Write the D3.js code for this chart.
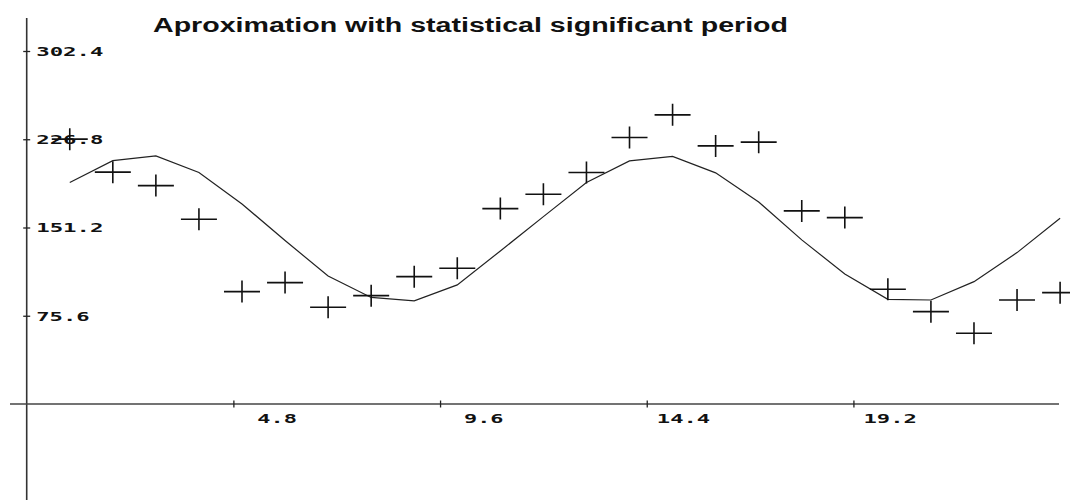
<!DOCTYPE html>
<html>
<head>
<meta charset="utf-8">
<title>Aproximation with statistical significant period</title>
<script src="https://cdn.jsdelivr.net/npm/d3@7"></script>
<style>
    html, body { margin: 0; padding: 0; background: #fff; }
    svg { display: block; }
    .lbl { font-family: "DejaVu Sans Mono", monospace; font-weight: bold; font-size: 12px; fill: #111; }
</style>
</head>
<body>
<svg id="svg-main" width="1070" height="500"></svg>
<script>
// time steps (x) of the observations
var steps = [1, 2, 3, 4, 5, 6, 7, 8, 9, 10, 11, 12, 13, 14, 15, 16, 17, 18, 19, 20, 21, 22, 23, 24];
// observed values (crosses)
var observed = [226.9, 198.6, 187.1, 158.3, 96.3, 104.0, 82.9, 92.8, 109.1, 116.3, 167.4, 179.7,
                198.3, 228.3, 247.7, 221.1, 224.3, 165.4, 159.7, 98.3, 79.1, 60.6, 89.1, 95.4];
// approximation with the significant period (line)
var fitted = [189.7, 208.5, 212.6, 198.3, 171.4, 140.0, 109.7, 91.3, 88.3, 102.0, 131.1, 160.5,
              189.7, 208.3, 212.1, 198.0, 173.1, 140.6, 111.4, 89.7, 89.1, 104.8, 129.7, 159.2];
var xTicks = [4.8, 9.6, 14.4, 19.2];
var yTicks = [75.6, 151.2, 226.8, 302.4];
var title = "Aproximation with statistical significant period";

window.onload = function () {
    var svg = d3.select("svg");

    var x = d3.scaleLinear().domain([0, 24]).range([26.7, 1060.1]);
    var y = d3.scaleLinear().domain([0, 302.4]).range([404, 51]);
    var fmt = d3.format(".1f");

    function labelLen(s) {
        return (s.length - 1) * 13.8 + 12;
    }

    // title
    svg.append("text")
        .attr("x", 153)
        .attr("y", 32)
        .attr("textLength", 635)
        .attr("lengthAdjust", "spacingAndGlyphs")
        .style("font-family", "'Liberation Sans', Arial, sans-serif")
        .style("font-weight", "bold")
        .style("font-size", "20px")
        .style("fill", "#111")
        .text(title);

    // axis lines
    svg.append("line")
        .attr("x1", x(0)).attr("x2", x(0))
        .attr("y1", 18).attr("y2", 500)
        .attr("stroke", "#333").attr("stroke-width", 1.6);
    svg.append("line")
        .attr("x1", 10).attr("x2", 1059)
        .attr("y1", y(0)).attr("y2", y(0))
        .attr("stroke", "#444").attr("stroke-width", 1.6);

    // x axis ticks + labels
    var xAxis = svg.append("g")
        .attr("transform", "translate(0," + y(0) + ")")
        .call(d3.axisBottom(x).tickValues(xTicks).tickFormat(fmt).tickSizeOuter(0));
    xAxis.select(".domain").remove();
    xAxis.selectAll(".tick line")
        .attr("y1", -3.5).attr("y2", 3.5)
        .attr("stroke", "#222").attr("stroke-width", 1.3);
    xAxis.selectAll(".tick text")
        .attr("class", "lbl")
        .attr("text-anchor", "start")
        .attr("dy", null)
        .attr("y", 19)
        .attr("x", function (d) { return 63 - labelLen(fmt(d)); })
        .attr("textLength", function (d) { return labelLen(fmt(d)); })
        .attr("lengthAdjust", "spacingAndGlyphs")
        .attr("fill", null)
        .style("font-family", null).style("font-size", null);
    xAxis.attr("font-family", null).attr("font-size", null);

    // y axis ticks + labels
    var yAxis = svg.append("g")
        .attr("transform", "translate(" + x(0) + ",0)")
        .call(d3.axisLeft(y).tickValues(yTicks).tickFormat(fmt).tickSizeOuter(0));
    yAxis.select(".domain").remove();
    yAxis.selectAll(".tick line")
        .attr("x1", -3.5).attr("x2", 3.5)
        .attr("stroke", "#222").attr("stroke-width", 1.3);
    yAxis.selectAll(".tick text")
        .attr("class", "lbl")
        .attr("text-anchor", "start")
        .attr("x", 9.5)
        .attr("dy", "0.36em")
        .attr("textLength", function (d) { return labelLen(fmt(d)); })
        .attr("lengthAdjust", "spacingAndGlyphs")
        .attr("fill", null);
    yAxis.attr("font-family", null).attr("font-size", null);

    // approximation line
    var line = d3.line()
        .x(function (d, i) { return x(steps[i]); })
        .y(function (d) { return y(d); });

    svg.append("path")
        .datum(fitted)
        .attr("fill", "none")
        .attr("stroke", "#222")
        .attr("stroke-width", 1.2)
        .attr("d", line);

    // observations drawn as crosses
    svg.append("g")
        .selectAll("path")
        .data(observed)
        .enter().append("path")
        .attr("transform", function (d, i) {
            return "translate(" + x(steps[i]) + "," + y(d) + ")";
        })
        .attr("d", "M-18,0H18M0,-11V11")
        .attr("fill", "none")
        .attr("stroke", "#111")
        .attr("stroke-width", 1.6);
};
</script>
</body>
</html>
